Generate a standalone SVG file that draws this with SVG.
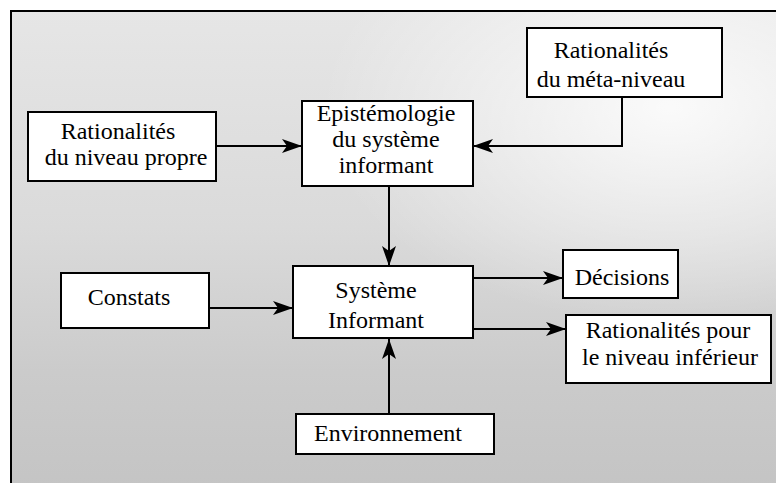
<svg xmlns="http://www.w3.org/2000/svg" width="776" height="483" viewBox="0 0 776 483">
  <defs>
    <linearGradient id="bg" x1="0" y1="0" x2="0" y2="1">
      <stop offset="0" stop-color="#e6e6e6"/>
      <stop offset="0.45" stop-color="#dadada"/>
      <stop offset="0.75" stop-color="#cbcbcb"/>
      <stop offset="1" stop-color="#c4c4c4"/>
    </linearGradient>
    <radialGradient id="hl" cx="0.85" cy="0.2" r="0.45">
      <stop offset="0" stop-color="#ffffff" stop-opacity="0.85"/>
      <stop offset="1" stop-color="#ffffff" stop-opacity="0"/>
    </radialGradient>
    <marker id="arr" markerUnits="userSpaceOnUse" markerWidth="22" markerHeight="16" refX="20" refY="8" orient="auto">
      <path d="M0,1 L20,8 L0,15 L5,8 z" fill="#000"/>
    </marker>
  </defs>
  <style>
    .box { fill: #fff; stroke: #000; stroke-width: 2; }
    text { font-family: "Liberation Serif", "DejaVu Serif", serif; font-size: 24px; fill: #000; text-anchor: middle; }
    .con { fill: none; stroke: #000; stroke-width: 2; }
  </style>
  <rect x="0" y="0" width="776" height="483" fill="#fff"/>
  <rect x="11" y="11" width="775" height="482" fill="url(#bg)"/>
  <rect x="11" y="11" width="775" height="482" fill="url(#hl)"/>
  <rect x="11" y="11" width="775" height="482" fill="none" stroke="#000" stroke-width="2"/>

  <g id="connectors">
    <path class="con" d="M216,146 L302,146" marker-end="url(#arr)"/>
    <path class="con" d="M622,97 L622,146 L473,146" marker-end="url(#arr)"/>
    <path class="con" d="M389,186 L389,266" marker-end="url(#arr)"/>
    <path class="con" d="M209,308 L293,308" stroke-width="3" marker-end="url(#arr)"/>
    <path class="con" d="M473,278 L563,278" marker-end="url(#arr)"/>
    <path class="con" d="M473,329 L566,329" marker-end="url(#arr)"/>
    <path class="con" d="M389,414 L389,339" marker-end="url(#arr)"/>
  </g>

  <g id="rat-propre">
    <rect class="box" x="28" y="112" width="188" height="69"/>
    <text x="118" y="139">Rationalités</text>
    <text x="126" y="165">du niveau propre</text>
  </g>
  <g id="epistemologie">
    <rect class="box" x="302" y="101" width="171" height="85"/>
    <text x="386" y="121">Epistémologie</text>
    <text x="386" y="147">du système</text>
    <text x="386" y="173">informant</text>
  </g>
  <g id="rat-meta">
    <rect class="box" x="527" y="28" width="195" height="69"/>
    <text x="611" y="58">Rationalités</text>
    <text x="611" y="87">du méta-niveau</text>
  </g>
  <g id="systeme">
    <rect class="box" x="293" y="266" width="180" height="72"/>
    <text x="376" y="298">Système</text>
    <text x="376" y="328">Informant</text>
  </g>
  <g id="constats">
    <rect class="box" x="61" y="273" width="148" height="55"/>
    <text x="129" y="305">Constats</text>
  </g>
  <g id="decisions">
    <rect class="box" x="563" y="250" width="115" height="48"/>
    <text x="622" y="285">Décisions</text>
  </g>
  <g id="rat-inferieur">
    <rect class="box" x="566" y="315" width="205" height="68"/>
    <text x="668" y="338">Rationalités pour</text>
    <text x="670" y="365">le niveau inférieur</text>
  </g>
  <g id="environnement">
    <rect class="box" x="296" y="414" width="198" height="40"/>
    <text x="388" y="441">Environnement</text>
  </g>
</svg>
